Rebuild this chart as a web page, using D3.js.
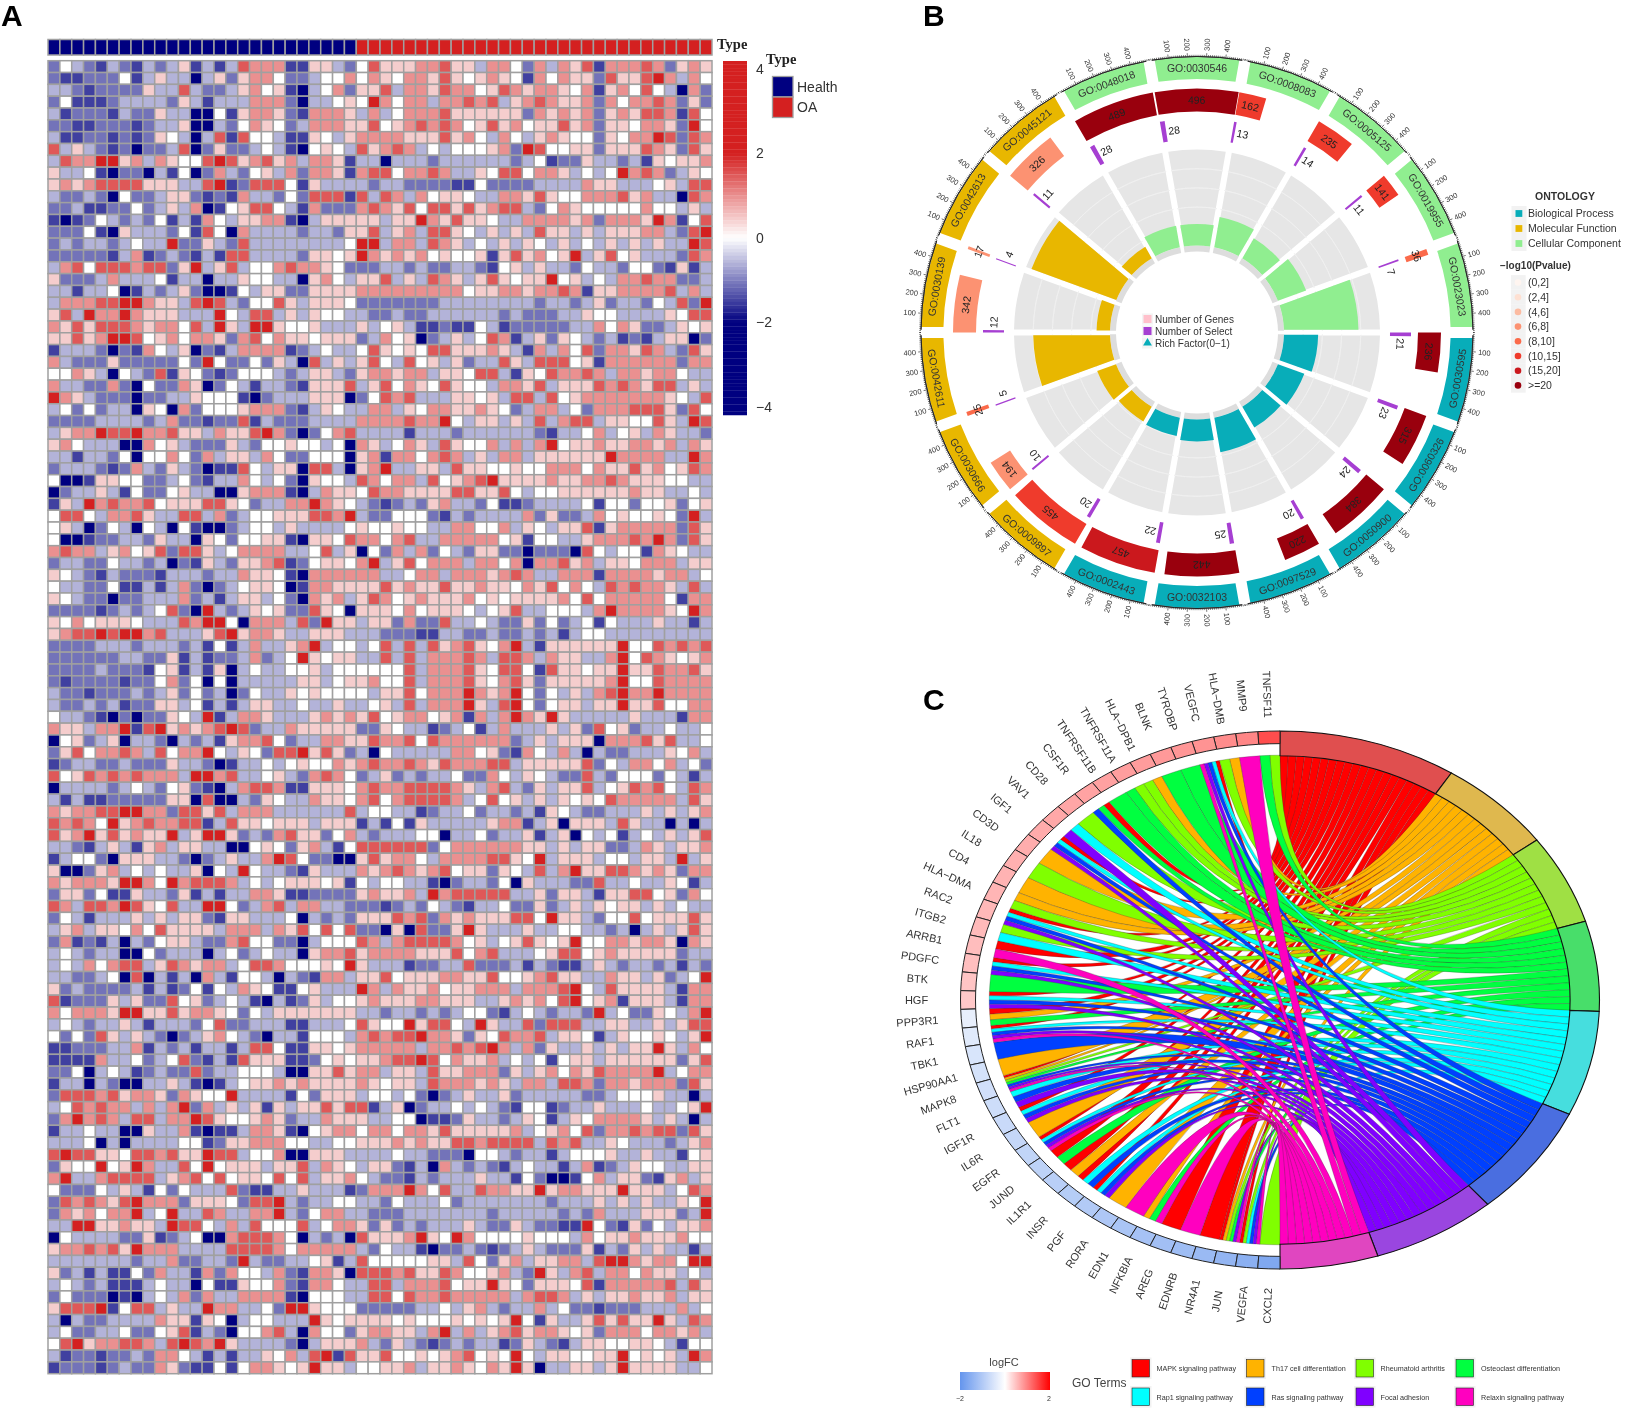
<!DOCTYPE html>
<html>
<head>
<meta charset="utf-8">
<script src="https://cdn.jsdelivr.net/npm/d3@7/dist/d3.min.js"></script>
<style>
  body { margin: 0; background: #fff; }
  svg { display: block; font-family: "Liberation Sans", Arial, sans-serif; filter: blur(0.5px); }
</style>
</head>
<body>
<svg id="fig" width="1630" height="1413"></svg>
<script>
// panel A, one string per row, one digit per sample, the digit indexes heatLevels
var heatRows = [
"24321321 32351313 766611 5532 4755566755 3664263657 1666 762565",
"21122241 35330352 566422 3446 4654665754 5654164655 2755 786364",
"33212222 53373223 564510 3462 5573665766 4576566546 1564 743062",
"24111233 33253133 366620 3345 4864663667 6735676556 2646 676252",
"31222132 25330041 566521 6665 3634666755 5555265656 2565 776174",
"22112221 23350032 465423 6665 5745676764 5756455756 2554 665284",
"31122121 25430371 744311 5435 6666555756 4364356544 2546 687276",
"73532120 22370252 234310 4543 7567634344 4562874455 2555 765275",
"37668856 36544787 567563 6651 3303332333 3332341225 3323 154556",
"53341022 03140263 245362 6651 6774667633 5477466534 3486 762354",
"56567777 55533781 277741 5333 3233222211 4222233336 5533 345377",
"32232042 23552121 633242 7771 7376364554 3366575446 6675 633076",
"22311224 23536014 577431 6222 6765747757 5677324654 4444 644353",
"10124323 24131643 556610 3555 5535586575 5433666656 2666 586147",
"22241053 33241740 633332 3325 5735637754 3535375535 3555 663278",
"23233234 33822532 733333 3334 8836637653 4353543534 3535 353387",
"22222136 12321317 733332 5545 8656564544 5157564583 5745 333276",
"36747776 77258357 344676 6542 2233232233 2145353324 3324 421513",
"52223633 34133033 544330 5643 5573537653 5754558453 4366 766223",
"33133401 32352001 435522 5555 6666666664 5566566761 5566 667363",
"36667788 65537873 244753 5554 2222222333 3333323323 5233 243728",
"57386686 55533384 377353 5443 3223223333 3323222335 4433 335477",
"65757776 56647385 388544 5333 5345311211 4312222233 6465 223545",
"55756887 45646652 674655 4555 2364502353 4761352543 2312 135502",
"13332021 64350213 666612 3433 4754547755 5653163647 2665 763275",
"63222522 22242842 242530 7353 5743745352 3375377745 1666 666266",
"44653043 27154212 444323 5532 5665663554 7731547667 6366 566433",
"63322620 42265024 313321 5557 3574654754 4366573555 7676 577353",
"86532220 22335444 102333 5550 2476733355 4537737456 6666 665437",
"34242330 54062444 566621 3543 3663546655 6542366342 6667 775274",
"22223333 23622122 713222 3333 6666766843 5535373677 3554 475387",
"35668778 66755365 578620 2467 3333133323 3333321334 6345 365332",
"56433300 64532225 324454 4340 6534653754 4636368455 6556 656365",
"33133240 44642635 536422 4440 5616646763 5366355555 5866 663386",
"23332126 32532011 743550 7730 5683355375 5445446664 6557 564576",
"40015544 22342133 643420 5443 7646637456 7855556556 6765 554433",
"02335314 22453300 566610 3655 4766555577 5574344555 5556 553343",
"15386766 74555775 423366 8654 3212325633 2411233334 1442 445245",
"47743667 53377362 344555 7768 3224442132 3333625223 6454 454283",
"45302430 43041002 344353 3334 5445443366 4463543557 1566 666275",
"40012233 25330542 445510 5547 6646733666 6645144335 6667 686275",
"67663564 57277534 666633 4735 0426362432 5522022207 4344 165433",
"23322433 23021532 556712 4554 6835746663 6646066756 3554 666355",
"54321322 21333233 655410 6666 6633466366 6567633666 1666 656634",
"43322411 31362023 455401 6655 5575655755 6554657464 3767 665373",
"54322022 33362313 553420 6563 5764565556 4545555647 4666 664166",
"22221232 34720832 354522 7540 5554645554 3457334443 6866 665486",
"54645554 33376884 066637 2855 3552622733 4322524234 1433 353313",
"56778788 67333578 566533 5553 3322211332 2322323134 4333 333333",
"22223332 33323141 363356 8344 3473737567 5468315555 5584 476767",
"22222233 22513122 362348 5455 3373736667 6377636553 3684 765456",
"22223222 14513150 343344 5344 4444736667 5477417554 5585 576675",
"21222212 24624040 333335 5345 5644736667 5467525555 5684 476666",
"32212223 23524230 243354 5444 4355746668 6568424353 6786 686666",
"32232312 25534131 355334 3353 3453736668 5378424553 5585 574466",
"43321020 22543813 665333 5656 5745664561 6368658533 3335 333166",
"65536681 78565678 723365 5555 2254331234 1363335352 7452 334334",
"04523503 32032315 667423 3665 5766747666 6662353555 0666 757334",
"25746676 37466843 542778 5752 3043333366 4521643630 3223 335463",
"12332232 22533201 334345 4465 6766765766 6773555557 2436 646342",
"74576767 66638867 334532 6764 2352323342 2643543227 3244 424313",
"03333234 32452103 677611 5554 6766777765 3673253557 3457 674376",
"31311222 22550700 325433 6554 6746777763 4745353545 4766 666375",
"65667788 66277573 666333 3337 3443312334 2332315432 2333 535356",
"76764856 76677137 554555 3555 1314153333 3566135055 5375 330303",
"75685756 55835885 232675 5246 3233344033 4233513504 3413 435357",
"33213531 56355330 045425 6314 7777772466 6666553535 5223 653556",
"13442055 53320235 336874 2200 5756643666 6775483555 3443 553835",
"50025634 34335043 843321 5333 6567656745 5254373685 5776 565266",
"65666588 64867776 343455 5451 4344331023 3240533322 7334 335413",
"25524115 33251313 366511 2222 5655638677 7773352553 1557 745264",
"76377687 54733884 236736 6332 2212324321 3342252353 5455 353433",
"24313335 35355215 533340 3232 5557672656 5557748553 2447 455575",
"35635546 47555536 663657 4747 2205072258 5333533443 3230 353575",
"26121303 24553226 744220 3444 7636777764 5345754584 4665 665065",
"34323300 42333034 234330 5667 5666655574 6733345774 5655 555233",
"34364677 35765663 477644 4548 5333122337 2223132113 5323 323132",
"33223407 03130631 443032 1663 5574555665 5744567553 3655 352348",
"52322223 13124143 654114 5333 8636556455 6663666784 3755 553166",
"71222535 22745234 310312 5344 5655566555 3356564784 5615 553166",
"64666588 55756654 243555 5555 3323323234 4213432332 8342 254368",
"34323353 13332472 233311 3334 7544857743 8533727773 3553 353577",
"42427535 32023564 320331 4443 6767786652 5476673554 1354 454358",
"11222336 13231331 377411 5545 6666636676 7863625335 3535 585364",
"11116334 23472131 755511 2454 5567787465 5634341455 3555 555257",
"22403431 23227233 444300 5575 6635537556 6625356465 7666 683466",
"13303200 33531013 455656 5555 6545537666 5653663776 2665 666275",
"27776756 65265448 333314 2555 3443420235 3352333332 2344 453303",
"34767663 63682635 351535 5757 7135023343 4321441233 5333 433458",
"26867637 73668754 456523 3655 5334401125 3323541354 6666 535303",
"13343300 53361011 366510 4566 4664665755 5556345647 2667 677275",
"33340303 33344125 566644 3344 5556565577 6777737673 3543 332356",
"78775547 76755877 344600 5553 3334332220 4432331344 4533 533145",
"25448458 63374845 553557 3654 3552130632 3213433136 1235 443355",
"68336777 73567474 554747 3556 4322132333 5331420014 6355 215635",
"42224353 14243337 211335 3331 2666864733 7665585665 5585 553476",
"27676578 66625554 277832 3344 3324333423 3333332333 5353 533548",
"26564668 34833763 366832 4663 3222333333 3233333232 6333 555238",
"33885565 53877436 374447 3466 5252323335 3225322118 4215 243556",
"04333322 51234006 777640 3230 7555685486 4444544436 4556 555644",
"56676758 66633337 777646 6666 3243310223 2123532225 1325 353313",
"33333332 33622332 832233 4513 7444445537 4256355663 7886 566488",
"52313114 26331626 443621 6650 7776755764 4563285367 3664 655343",
"34323111 34330411 544621 6643 3773666745 5854255547 1666 667375",
"24222010 34362633 666610 4443 3774766766 6663677635 3556 556355",
"57778147 73533866 334288 5444 2222233435 6323363422 1222 333634",
"30322333 36551540 344333 8545 5554544454 5458415335 7575 585376",
"34223342 24571320 446730 6442 5665536836 3567566545 2666 466563",
"47856677 63787685 333320 3555 6325321232 3312532135 5445 543144",
"31221223 26643131 335463 7817 5574454567 4548435544 5584 545386",
"12221232 26521141 466545 8553 4455635565 4658503355 3585 555334"
];
var heatLevels = [-2,-1.5,-1.1,-0.6,0,0.45,1,1.5,2];
var healthCount = 26;
var sampleCount = 56;
var typeNames = ['Health', 'OA'];
var typeColors = ['#000080', '#d42020'];
var colorbarTicks = [4, 2, 0, -2, -4];

// panel B, clockwise from 3 o'clock
var goTerms = ['GO:0030595','GO:0060326','GO:0050900','GO:0097529','GO:0032103','GO:0002443',
  'GO:0009897','GO:0030666','GO:0042611','GO:0030139','GO:0042613','GO:0045121',
  'GO:0048018','GO:0030546','GO:0008083','GO:0005125','GO:0019955','GO:0023023'];
var goOntology = [0,0,0,0,0,0, 1,1,1,1,1,1, 2,2,2,2,2,2];
var goGenes = [236,315,384,220,442,457,455,194,25,342,17,326,489,496,162,235,141,36];
var goSelect = [21,23,24,20,25,22,20,10,5,12,4,11,28,28,13,14,11,7];
var goRich = [0.089,0.073,0.0625,0.091,0.057,0.048,0.044,0.052,0.2,0.035,0.235,0.034,0.057,0.056,0.08,0.06,0.078,0.194];
var goPclass = [7,7,7,7,7,6,5,3,4,3,3,3,7,7,5,5,5,4];
var ontologyNames = ['Biological Process','Molecular Function','Cellular Component'];
var ontologyColors = ['#08adb9','#e8b700','#90ee90'];
var pvalNames = ['(0,2]','(2,4]','(4,6]','(6,8]','(8,10]','(10,15]','(15,20]','>=20'];
var pvalColors = ['#fff5f0','#fee0d2','#fcbba1','#fc9272','#fb6a4a','#ef3b2c','#cb181d','#99000d'];
var axisTicks = [100,200,300,400];

// panel C
var genes = ['TNFSF11','MMP9','HLA\u2212DMB','VEGFC','TYROBP','BLNK','HLA\u2212DPB1','TNFRSF11A','TNFRSF11B','CSF1R','CD28','VAV1','IGF1','CD3D','IL18','CD4','HLA\u2212DMA','RAC2','ITGB2','ARRB1','PDGFC','BTK','HGF',
  'PPP3R1','RAF1','TBK1','HSP90AA1','MAPK8','FLT1','IGF1R','IL6R','EGFR','JUND','IL1R1','INSR','PGF','RORA','EDN1','NFKBIA','AREG','EDNRB','NR4A1','JUN','VEGFA','CXCL2'];
var logFC = [1.4,0.95,0.9,0.85,0.82,0.8,0.78,0.76,0.74,0.72,0.7,0.68,0.66,0.64,0.62,0.6,0.58,0.56,0.54,0.52,0.5,0.46,0.43,
  -0.3,-0.4,-0.5,-0.55,-0.6,-0.65,-0.7,-0.75,-0.8,-0.85,-0.9,-0.95,-1,-1.05,-1.1,-1.15,-1.2,-1.25,-1.3,-1.4,-1.5,-1.64];
var geneLinks = [[2,3],[7],[1,2],[0,4,5,6,7],[3],[3],[1,2],[2,3],[3],[0,3,5],[2],[4,6],[0,4,5,6],[1],[2],[1],[1,2],[0,4,5,6],[2,4],[0,7],[0,4,5,6],[3],[0,4,5,6],
  [0,1,3],[0,4,5,6,7],[5],[1],[0,1,2,3,5,6,7],[4,5,6],[0,4,5,6],[1],[0,4,5,6,7],[0,3],[0,1],[0,4,5],[0,4,5,6],[1],[7],[1,3,7],[0],[7],[0],[0,1,2,3,6,7],[0,2,4,5,6,7],[2]];
var termNames = ['MAPK signaling pathway','Th17 cell differentiation','Rheumatoid arthritis','Osteoclast differentiation',
  'Rap1 signaling pathway','Ras signaling pathway','Focal adhesion','Relaxin signaling pathway'];
var termColors = ['#ff0000','#ffb300','#80ff00','#00ff40','#00ffff','#0040ff','#8000ff','#ff00bf'];
var termRing = ['#e04f4f','#dfb84e','#9fe044','#48de6a','#46dede','#4a6ee0','#9a46e0','#e046c0'];

var svg = d3.select('#fig');
function rad(d) { return d * Math.PI / 180; }
function deg(r) { return r * 180 / Math.PI; }

// ---------- panel letters
svg.selectAll('text.letter')
  .data([['A',1,26],['B',923,26],['C',923,710]])
  .enter().append('text')
    .attr('class','letter')
    .attr('x',function(d){ return d[1]; })
    .attr('y',function(d){ return d[2]; })
    .attr('font-size',30)
    .attr('font-weight','bold')
    .attr('fill','#000')
    .text(function(d){ return d[0]; });

// ---------- A: heatmap
var heatColor = d3.scaleLinear().domain([-2,0,2]).range(['#000080','#ffffff','#d42020']).clamp(true);
var heat = heatRows.map(function(r){
  return r.replace(/ /g,'').split('').map(function(c){ return heatLevels[+c]; });
});
var xHeat = d3.scaleBand().domain(d3.range(sampleCount)).range([48,712]);
var yHeat = d3.scaleBand().domain(d3.range(heat.length)).range([60.7,1373.7]);
var gridGrey = '#a0a0a0';

var annot = svg.append('g');
annot.selectAll('rect')
  .data(d3.range(sampleCount))
  .enter().append('rect')
    .attr('x',function(c){ return xHeat(c); })
    .attr('y',39.5)
    .attr('width',xHeat.bandwidth())
    .attr('height',15.5)
    .attr('fill',function(c){ return c < healthCount ? typeColors[0] : typeColors[1]; })
    .attr('stroke',gridGrey)
    .attr('stroke-width',1.5);

var rows = svg.append('g').selectAll('g')
  .data(heat)
  .enter().append('g')
    .attr('transform',function(d,i){ return 'translate(0,' + yHeat(i) + ')'; });
rows.selectAll('rect')
  .data(function(d){ return d; })
  .enter().append('rect')
    .attr('x',function(d,c){ return xHeat(c); })
    .attr('width',xHeat.bandwidth())
    .attr('height',yHeat.bandwidth())
    .attr('fill',function(d){ return heatColor(d); })
    .attr('stroke',gridGrey)
    .attr('stroke-width',1.5);

svg.append('text').attr('x',717).attr('y',49)
  .attr('font-family','"Liberation Serif", serif').attr('font-weight','bold').attr('font-size',14.5)
  .attr('fill','#222').text('Type');
svg.append('text').attr('x',766).attr('y',64)
  .attr('font-family','"Liberation Serif", serif').attr('font-weight','bold').attr('font-size',14.5)
  .attr('fill','#222').text('Type');

typeNames.forEach(function(name,i){
  svg.append('rect').attr('x',772.5).attr('y',76.5 + i * 20.5).attr('width',20.5).attr('height',20.5)
    .attr('fill',typeColors[i]).attr('stroke',gridGrey).attr('stroke-width',1.3);
  svg.append('text').attr('x',797).attr('y',92 + i * 20)
    .attr('font-size',14).attr('fill','#333').text(name);
});

// colorbar
var yBar = d3.scaleLinear().domain([4,-4]).range([69,407]);
var barSteps = d3.range(61,415,3.54);
svg.append('g').selectAll('rect')
  .data(barSteps)
  .enter().append('rect')
    .attr('x',723)
    .attr('y',function(d){ return d; })
    .attr('width',24)
    .attr('height',3.8)
    .attr('fill',function(d){ return heatColor(yBar.invert(d + 1.77)); });
var barAxis = svg.append('g')
  .attr('transform','translate(747,0)')
  .call(d3.axisRight(yBar).tickValues(colorbarTicks).tickSize(0).tickPadding(9));
barAxis.select('.domain').remove();
barAxis.selectAll('text').attr('font-size',14).attr('fill','#333').attr('font-family','"Liberation Sans", Arial, sans-serif');

// ---------- B: circular GO plot
var gB = svg.append('g').attr('transform','translate(1197,332.5)');
var arc = d3.arc();
var rOuter = 275.5, rBand = 253.6;
var rBarIn = 221, rBarOut = 244;
var rSelIn = 193, rSelOut = 214;
var rHole = 81, rRichIn = 87, rGrey = 183;
var rRich = d3.scaleLinear().domain([0,0.25]).range([rRichIn,rGrey]);

function sectorStart(i) { return rad(90 + 20 * i); }
function sectorEnd(i) { return rad(90 + 20 * (i + 1)); }
function countAngle(i) { return d3.scaleLinear().domain([0,500]).range([sectorStart(i),sectorEnd(i)]); }

goTerms.forEach(function(term,i){
  var a0 = sectorStart(i), a1 = sectorEnd(i), at = countAngle(i), mid = deg((a0 + a1) / 2);

  // grey ring with its faint grid
  gB.append('path').attr('fill','#dddddd')
    .attr('d',arc({innerRadius:rHole,outerRadius:rRichIn,startAngle:a0,endAngle:a1,padAngle:0.03,padRadius:100}));
  gB.append('path').attr('fill','#e6e6e6')
    .attr('d',arc({innerRadius:rRichIn,outerRadius:rGrey,startAngle:a0,endAngle:a1,padAngle:0.03,padRadius:100}));
  [0.05,0.1,0.15,0.2].forEach(function(v){
    gB.append('path').attr('fill','none').attr('stroke','#f0f0f0').attr('stroke-width',0.8)
      .attr('d',arc({innerRadius:rRich(v),outerRadius:rRich(v),startAngle:a0 + 0.015,endAngle:a1 - 0.015}));
  });

  // rich factor
  gB.append('path').attr('fill',ontologyColors[goOntology[i]])
    .attr('d',arc({innerRadius:rRichIn,outerRadius:rRich(goRich[i]),startAngle:a0,endAngle:a1,padAngle:0.03,padRadius:100}));

  // outer band
  gB.append('path').attr('fill',ontologyColors[goOntology[i]])
    .attr('d',arc({innerRadius:rBand,outerRadius:rOuter,startAngle:a0,endAngle:a1,padAngle:0.03,padRadius:130}));
  var labelRot = (mid > 90 && mid < 270) ? mid - 180 : mid;
  var rl = (rBand + rOuter) / 2;
  gB.append('text')
    .attr('transform','rotate(' + mid + ') translate(0,' + (-rl) + ') rotate(' + (labelRot - mid) + ')')
    .attr('text-anchor','middle').attr('dy','0.36em')
    .attr('font-size',10.5).attr('fill','#333').text(term);

  // outer axis
  gB.append('path').attr('fill','none').attr('stroke','#222').attr('stroke-width',0.9)
    .attr('d',arc({innerRadius:rOuter + 0.5,outerRadius:rOuter + 0.5,startAngle:a0 + 0.01,endAngle:a1 - 0.01}));
  d3.range(0,501,10).forEach(function(v){
    var major = axisTicks.indexOf(v) >= 0;
    gB.append('line')
      .attr('transform','rotate(' + deg(at(v)) + ')')
      .attr('y1',-rOuter - 0.5).attr('y2',-rOuter - (major ? 4 : 2.2))
      .attr('stroke','#222').attr('stroke-width',0.6);
  });
  axisTicks.forEach(function(v){
    var t = deg(at(v)) % 360;
    var r = t < 180 ? t - 90 : t + 90;
    gB.append('text')
      .attr('transform','rotate(' + t + ') translate(0,' + (-(rOuter + 12.5)) + ') rotate(' + (r - t) + ')')
      .attr('text-anchor','middle').attr('dy','0.36em')
      .attr('font-size',7.5).attr('fill','#333').text(v);
  });

  // number of genes
  gB.append('path').attr('fill',pvalColors[goPclass[i]])
    .attr('d',arc({innerRadius:rBarIn,outerRadius:rBarOut,startAngle:a0,endAngle:at(goGenes[i])}));
  gB.append('text')
    .attr('transform','rotate(' + deg((a0 + at(goGenes[i])) / 2) + ') translate(0,' + (-(rBarIn + rBarOut) / 2) + ')')
    .attr('text-anchor','middle').attr('dy','0.36em')
    .attr('font-size',10.5).attr('fill','#222').text(goGenes[i]);

  // number of select
  gB.append('path').attr('fill','#a63fd2')
    .attr('d',arc({innerRadius:rSelIn,outerRadius:rSelOut,startAngle:a0,endAngle:at(goSelect[i]) + 0.003}));
  gB.append('text')
    .attr('transform','rotate(' + (deg(at(goSelect[i])) + 2.4) + ') translate(0,' + (-(rSelIn + rSelOut) / 2) + ')')
    .attr('text-anchor','middle').attr('dy','0.36em')
    .attr('font-size',10.5).attr('fill','#222').text(goSelect[i]);
});

// middle legend of B
var midKeys = [['Number of Genes','#ffc0cb'],['Number of Select','#a63fd2'],['Rich Factor(0\u22121)','#08adb9']];
midKeys.forEach(function(k,i){
  var y = 319 + i * 12;
  svg.append('rect').attr('x',1142).attr('y',y - 5.5).attr('width',11).attr('height',11).attr('fill','#f4f4f4');
  if (i < 2) {
    svg.append('rect').attr('x',1143.5).attr('y',y - 4).attr('width',8).attr('height',8).attr('fill',k[1]);
  } else {
    svg.append('path').attr('transform','translate(1147.5,' + y + ')')
      .attr('d',d3.symbol(d3.symbolTriangle,34)()).attr('fill',k[1]);
  }
  svg.append('text').attr('x',1155).attr('y',y + 3.6).attr('font-size',10).attr('fill','#333').text(k[0]);
});

// right legends of B
svg.append('text').attr('x',1565).attr('y',200).attr('text-anchor','middle')
  .attr('font-size',10.5).attr('font-weight','bold').attr('fill','#333').text('ONTOLOGY');
ontologyNames.forEach(function(n,i){
  var y = 213.5 + i * 15;
  svg.append('rect').attr('x',1511.5).attr('y',y - 7.5).attr('width',15).attr('height',15).attr('fill','#f2f2f2');
  svg.append('rect').attr('x',1515.5).attr('y',y - 3.4).attr('width',6.8).attr('height',6.8).attr('fill',ontologyColors[i]);
  svg.append('text').attr('x',1528).attr('y',y + 3.6).attr('font-size',10.5).attr('fill','#333').text(n);
});
svg.append('text').attr('x',1500).attr('y',269)
  .attr('font-size',10).attr('font-weight','bold').attr('fill','#333').text('\u2212log10(Pvalue)');
pvalNames.forEach(function(n,i){
  var y = 282.5 + i * 14.7;
  svg.append('rect').attr('x',1511).attr('y',y - 7.4).attr('width',14.7).attr('height',14.7).attr('fill','#f2f2f2');
  svg.append('circle').attr('cx',1518).attr('cy',y).attr('r',3.3).attr('fill',pvalColors[i]);
  svg.append('text').attr('x',1528).attr('y',y + 3.6).attr('font-size',10.5).attr('fill','#333').text(n);
});

// ---------- C: chord
var cx = 1280, cy = 1000, rx = 319.5, ry = 269;
var rTermIn = 0.908 * rx, rGeneIn = 0.953 * rx, rLink = 0.91 * rx;
var gC = svg.append('g').attr('transform','translate(' + cx + ',' + cy + ') scale(1,' + (ry / rx) + ')');
var fcColor = d3.scaleLinear().domain([-2,0,2]).range(['#6495ed','#ffffff','#ff0000']);

var linkTotal = d3.sum(geneLinks,function(l){ return l.length; });
var termAngle = d3.scaleLinear().domain([0,linkTotal]).range([0,Math.PI]);
var geneStep = Math.PI / genes.length;

// gene side angles
var links = [];
geneLinks.forEach(function(terms,g){
  var top = 2 * Math.PI - g * geneStep, w = geneStep / terms.length;
  terms.forEach(function(t,k){
    links.push({gene:g, term:t, a1:top - k * w, a0:top - (k + 1) * w});
  });
});

// term side angles, genes in ring order inside each term
var ribbon = d3.ribbon().radius(rLink);
var used = 0;
var termSpans = [];
termNames.forEach(function(name,t){
  var mine = links.filter(function(l){ return l.term === t; });
  var start = used;
  mine.forEach(function(l){
    gC.append('path')
      .attr('d',ribbon({
        source:{startAngle:termAngle(used),endAngle:termAngle(used + 1)},
        target:{startAngle:l.a0,endAngle:l.a1}
      }))
      .attr('fill',termColors[t])
      .attr('stroke','#333')
      .attr('stroke-opacity',0.55)
      .attr('stroke-width',0.5)
      .attr('vector-effect','non-scaling-stroke');
    used += 1;
  });
  termSpans.push([termAngle(start),termAngle(used)]);
});

termSpans.forEach(function(s,t){
  gC.append('path')
    .attr('d',arc({innerRadius:rTermIn,outerRadius:rx,startAngle:s[0],endAngle:s[1]}))
    .attr('fill',termRing[t])
    .attr('stroke','#111')
    .attr('stroke-width',1.1)
    .attr('vector-effect','non-scaling-stroke');
});

genes.forEach(function(name,g){
  var a1 = 2 * Math.PI - g * geneStep, a0 = a1 - geneStep;
  gC.append('path')
    .attr('d',arc({innerRadius:rGeneIn,outerRadius:rx,startAngle:a0,endAngle:a1}))
    .attr('fill',fcColor(logFC[g]))
    .attr('stroke','#222')
    .attr('stroke-width',1)
    .attr('vector-effect','non-scaling-stroke');
  var m = -deg(g * geneStep + geneStep / 2);
  var lx = cx + (rx + 44) * Math.sin(rad(m));
  var ly = cy - (ry + 37) * Math.cos(rad(m));
  svg.append('text')
    .attr('transform','translate(' + lx + ',' + ly + ') rotate(' + (m + 90) + ')')
    .attr('text-anchor','middle').attr('dy','0.36em')
    .attr('font-size',11).attr('fill','#333').text(name);
});

// legends of C
svg.append('text').attr('x',1004).attr('y',1366).attr('text-anchor','middle')
  .attr('font-size',11).attr('fill','#444').text('logFC');
var grad = svg.append('defs').append('linearGradient').attr('id','fc');
grad.selectAll('stop').data([-2,-1,0,1,2]).enter().append('stop')
  .attr('offset',function(d){ return ((d + 2) * 25) + '%'; })
  .attr('stop-color',function(d){ return fcColor(d); });
svg.append('rect').attr('x',960).attr('y',1372).attr('width',90).attr('height',18).attr('fill','url(#fc)');
svg.append('text').attr('x',960).attr('y',1401).attr('text-anchor','middle').attr('font-size',7).attr('fill','#333').text('\u22122');
svg.append('text').attr('x',1049).attr('y',1401).attr('text-anchor','middle').attr('font-size',7).attr('fill','#333').text('2');
svg.append('text').attr('x',1072).attr('y',1386.5).attr('font-size',12).attr('fill','#444').text('GO Terms');

var keyX = [1132,1246.5,1356,1456], textX = [1156.5,1271.5,1380.5,1481], keyY = [1359.5,1388];
termNames.forEach(function(name,t){
  var col = t % 4, row = Math.floor(t / 4);
  svg.append('rect').attr('x',keyX[col] - 2).attr('y',keyY[row] - 2).attr('width',21.5).attr('height',21.5).attr('fill','#f2f2f2');
  svg.append('rect').attr('x',keyX[col]).attr('y',keyY[row]).attr('width',17.5).attr('height',17.5)
    .attr('fill',termColors[t]).attr('stroke','#222').attr('stroke-width',0.6);
  svg.append('text').attr('x',textX[col]).attr('y',keyY[row] + 11.5)
    .attr('font-size',7.2).attr('fill','#333').text(name);
});
</script>
</body>
</html>
